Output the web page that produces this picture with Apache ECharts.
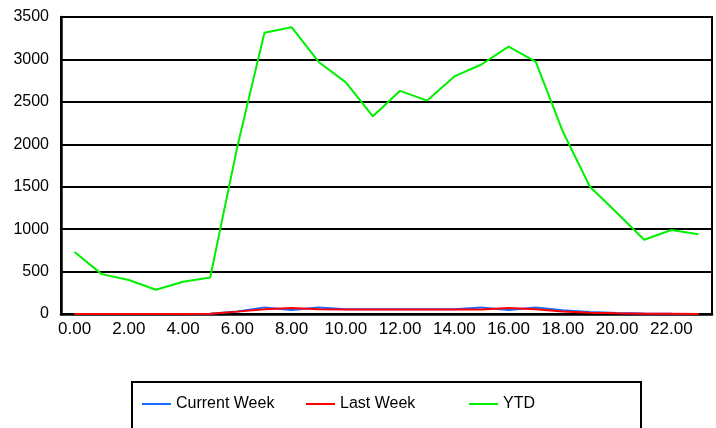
<!DOCTYPE html>
<html>
<head>
<meta charset="utf-8">
<script src="https://cdn.jsdelivr.net/npm/echarts@6/dist/echarts.min.js"></script>
<style>
  html, body { margin: 0; padding: 0; background: #fff; }
  #chart { width: 716px; height: 428px; }
</style>
</head>
<body>
<div id="chart"></div>
<script>
// Hour-of-day categories
const hours = ['0.00','1.00','2.00','3.00','4.00','5.00','6.00','7.00','8.00','9.00','10.00','11.00',
               '12.00','13.00','14.00','15.00','16.00','17.00','18.00','19.00','20.00','21.00','22.00','23.00'];

// Series values per hour
const currentWeek = [0, 0, 0, 0, 0, 2, 30, 78, 48, 78, 55, 55, 55, 55, 55, 78, 48, 78, 45, 25, 12, 5, 2, 0];
const lastWeek    = [0, 0, 0, 0, 0, 2, 28, 55, 70, 55, 52, 52, 52, 52, 52, 52, 70, 55, 30, 15, 8, 4, 2, 0];
const ytd         = [730, 470, 400, 285, 380, 430, 1970, 3315, 3380, 2970, 2730, 2330,
                     2630, 2515, 2800, 2940, 3150, 2975, 2150, 1500, 1190, 875, 990, 940];

const seriesNames = ['Current Week', 'Last Week', 'YTD'];
const seriesColors = ['#1a6cff', '#ff0000', '#00f000'];
const seriesData = [currentWeek, lastWeek, ytd];

const font = '"Liberation Sans", Arial, sans-serif';

// One legend per series so each entry sits in its own slot of the framed key
const legendLefts = [142, 306, 469];
const legends = seriesNames.map((name, i) => ({
  left: legendLefts[i], top: 396,
  padding: 0,
  itemWidth: 29, itemHeight: 14, itemGap: 0,
  icon: 'path://M0,6 L29,6 L29,8 L0,8 Z',
  textStyle: { fontFamily: font, fontSize: 16, color: '#000' },
  data: [name]
}));

const chart = echarts.init(document.getElementById('chart'), null, { renderer: 'canvas' });

chart.setOption({
  animation: false,
  backgroundColor: '#fff',
  grid: {
    left: 61, right: 4, top: 17, bottom: 114,
    show: true, borderColor: '#000', borderWidth: 2, backgroundColor: 'transparent'
  },
  legend: legends,
  graphic: [{
    type: 'rect',
    shape: { x: 132, y: 382, width: 509, height: 60 },
    style: { fill: 'none', stroke: '#000', lineWidth: 2 },
    silent: true
  }],
  xAxis: {
    type: 'category',
    data: hours,
    boundaryGap: true,
    axisLine: { lineStyle: { color: '#000', width: 2.5 } },
    axisTick: { show: false },
    axisLabel: { interval: 1, margin: 7, fontFamily: font, fontSize: 17, color: '#000' },
    splitLine: { show: false }
  },
  yAxis: {
    type: 'value',
    min: 0, max: 3500, interval: 500,
    axisLine: { show: true, lineStyle: { color: '#000', width: 2.5 } },
    axisTick: { show: false },
    axisLabel: { margin: 12, fontFamily: font, fontSize: 16, color: '#000',
                 formatter: v => String(v) },
    splitLine: { show: true, lineStyle: { color: '#000', width: 2 } }
  },
  series: seriesNames.map((name, i) => ({
    name: name,
    type: 'line',
    data: seriesData[i],
    symbol: 'none',
    color: seriesColors[i],
    lineStyle: { width: 2, color: seriesColors[i] },
    z: 3 + i
  }))
});
</script>
</body>
</html>
